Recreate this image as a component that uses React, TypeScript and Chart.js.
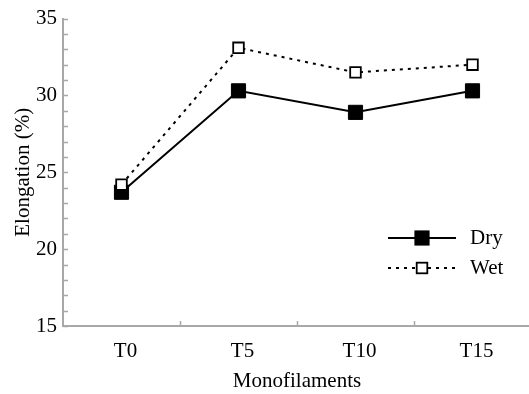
import React, { useEffect, useRef } from 'react';
import { Chart, registerables } from 'chart.js';

Chart.register(...registerables);

const categories = ['T0', 'T5', 'T10', 'T15'];
const seriesNames = ['Dry', 'Wet'];
const dryValues = [23.7, 30.3, 28.9, 30.3];
const wetValues = [24.2, 33.1, 31.5, 32.0];
const yMin = 15;
const yMax = 35;
const yStep = 5;
const yMinorStep = 1;
const xTitle = 'Monofilaments';
const yTitle = 'Elongation (%)';

const FONT = "'Liberation Serif', 'Times New Roman', serif";
const AXIS_COLOR = '#a8a8a8';
const FS = 21;

const innerTicks = {
  id: 'innerTicks',
  afterDraw(chart: any) {
    const { ctx, chartArea } = chart;
    const xs = chart.scales.x;
    const ys = chart.scales.y;
    ctx.save();
    ctx.strokeStyle = AXIS_COLOR;
    ctx.lineWidth = 1.5;
    ctx.beginPath();
    for (let v = yMin; v <= yMax; v += yMinorStep) {
      const y = Math.round(ys.getPixelForValue(v)) + 0.5;
      ctx.moveTo(chartArea.left, y);
      ctx.lineTo(chartArea.left + 5, y);
    }
    for (let i = 0; i < categories.length - 1; i++) {
      const x = Math.round(xs.getPixelForValue(i + 0.5)) + 0.5;
      ctx.moveTo(x, chartArea.bottom);
      ctx.lineTo(x, chartArea.bottom - 5);
    }
    ctx.stroke();
    ctx.restore();
  },
};

const customLegend = {
  id: 'customLegend',
  afterDraw(chart: any) {
    const { ctx } = chart;
    const rows = [238, 268];
    const x1 = 388;
    const x2 = 456;
    const xm = (x1 + x2) / 2;
    chart.data.datasets.forEach((ds: any, i: number) => {
      const y = rows[i];
      ctx.save();
      ctx.strokeStyle = ds.borderColor;
      ctx.lineWidth = ds.borderWidth;
      ctx.setLineDash(ds.borderDash || []);
      ctx.beginPath();
      ctx.moveTo(x1, y);
      ctx.lineTo(x2, y);
      ctx.stroke();
      ctx.setLineDash([]);
      const side = ds.pointRadius * Math.SQRT2;
      ctx.fillStyle = ds.pointBackgroundColor;
      ctx.fillRect(xm - side / 2, y - side / 2, side, side);
      ctx.lineWidth = ds.pointBorderWidth;
      ctx.strokeStyle = ds.pointBorderColor;
      ctx.strokeRect(xm - side / 2, y - side / 2, side, side);
      ctx.fillStyle = '#000';
      ctx.font = `${FS}px ${FONT}`;
      ctx.textBaseline = 'middle';
      ctx.textAlign = 'left';
      ctx.fillText(ds.label, 470, y);
      ctx.restore();
    });
  },
};

export default function App() {
  const ref = useRef<HTMLCanvasElement>(null);
  useEffect(() => {
    document.body.style.margin = '0';
    const chart = new Chart(ref.current as HTMLCanvasElement, {
      type: 'line',
      data: {
        labels: categories,
        datasets: [
          {
            label: seriesNames[0],
            data: dryValues,
            borderColor: '#000',
            borderWidth: 2,
            pointStyle: 'rect',
            pointRadius: 10,
            pointBackgroundColor: '#000',
            pointBorderColor: '#000',
            pointBorderWidth: 1,
            order: 1,
          },
          {
            label: seriesNames[1],
            data: wetValues,
            borderColor: '#000',
            borderWidth: 2,
            borderDash: [3, 5],
            pointStyle: 'rect',
            pointRadius: 7.5,
            pointBackgroundColor: '#fff',
            pointBorderColor: '#000',
            pointBorderWidth: 1.8,
            order: 0,
          },
        ],
      },
      options: {
        responsive: false,
        animation: false,
        layout: { padding: { top: 15, right: 5, left: 0, bottom: 0 } },
        plugins: { legend: { display: false }, tooltip: { enabled: false } },
        scales: {
          x: {
            type: 'category',
            offset: true,
            afterFit: (s: any) => { s.height = 68; },
            grid: { display: true, drawOnChartArea: false, drawTicks: false, color: 'rgba(0,0,0,0)' },
            border: { display: true, color: AXIS_COLOR, width: 2 },
            ticks: { color: '#000', font: { family: FONT, size: FS }, padding: 13, labelOffset: 4 },
            title: { display: true, text: xTitle, color: '#000', font: { family: FONT, size: FS }, padding: { top: 0, bottom: 0 } },
          },
          y: {
            min: yMin,
            max: yMax,
            afterFit: (s: any) => { s.width = 63; },
            grid: { display: true, drawOnChartArea: false, drawTicks: false, color: 'rgba(0,0,0,0)' },
            border: { display: true, color: AXIS_COLOR, width: 2 },
            ticks: { stepSize: yStep, color: '#000', font: { family: FONT, size: FS }, padding: 6 },
            title: { display: true, text: yTitle, color: '#000', font: { family: FONT, size: FS }, padding: { top: 11, bottom: 0 } },
          },
        },
      },
      plugins: [innerTicks, customLegend],
    });
    return () => chart.destroy();
  }, []);
  return (
    <div style={{ position: 'fixed', left: 0, top: 0, width: 529, height: 394, overflow: 'hidden', background: '#fff' }}>
      <canvas ref={ref} width={542} height={394} style={{ display: 'block' }} />
    </div>
  );
}
